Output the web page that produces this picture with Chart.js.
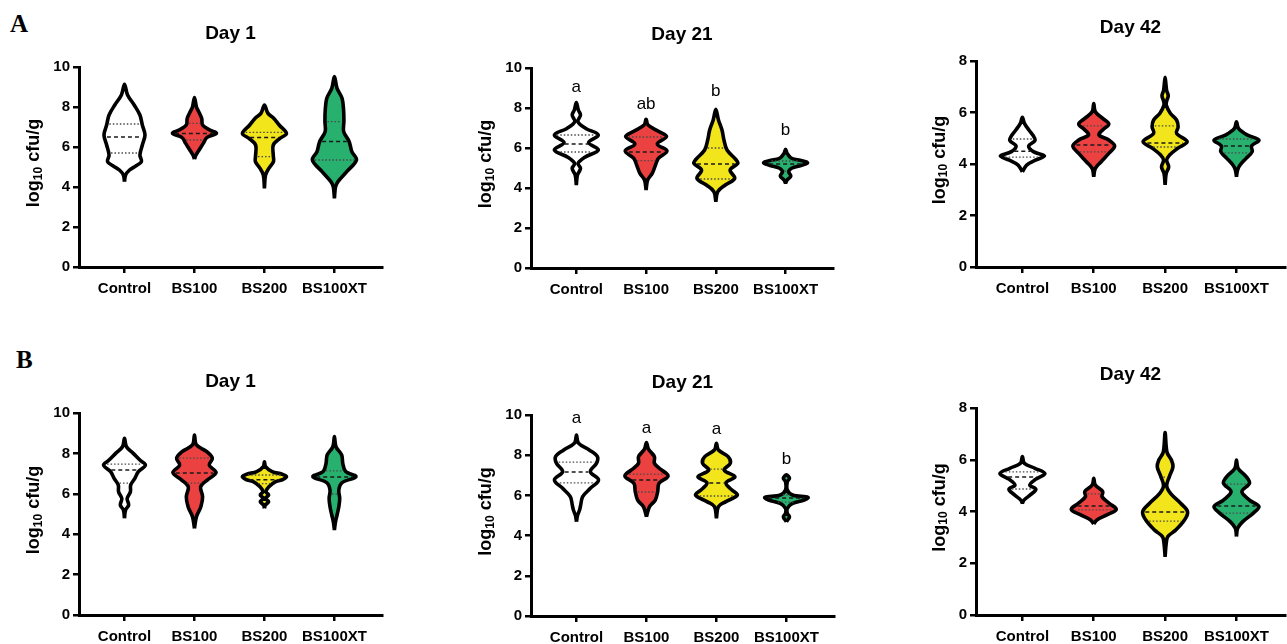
<!DOCTYPE html>
<html>
<head>
<meta charset="utf-8">
<script src="https://cdn.jsdelivr.net/npm/chart.js@4.4.1/dist/chart.umd.min.js"></script>
<style>
  html, body { margin: 0; padding: 0; background: #fff; width: 1287px; height: 644px; overflow: hidden; position: relative; }
  canvas { position: absolute; }
  .tag { position: absolute; font: bold 25px "Liberation Serif", "Times New Roman", serif; line-height: 25px; color: #000; }
</style>
</head>
<body>
<div class="tag" style="left:10px;top:11px">A</div>
<div class="tag" style="left:16px;top:347px">B</div>
<script>
// groups on the x axis
const groups = ['Control', 'BS100', 'BS200', 'BS100XT'];

// violin outlines: levels (log10 cfu/g) and relative density (1 = widest) per group
// quartiles: [Q1, median, Q3]

// A, day 1
const a1Levels = [
  [4.27, 4.6, 4.85, 5.05, 5.27, 5.6, 6.1, 6.6, 7.1, 7.6, 8.1, 8.6, 9.13],
  [5.4, 5.6, 5.85, 6.18, 6.47, 6.68, 6.85, 7.1, 7.43, 7.77, 8.0, 8.47],
  [3.93, 4.6, 4.93, 5.27, 5.6, 6.1, 6.43, 6.68, 7.1, 7.43, 7.68, 8.1],
  [3.43, 4.0, 4.27, 4.77, 5.35, 5.77, 6.27, 6.77, 7.27, 7.77, 8.43, 8.93, 9.52]
];
const a1Density = [
  [0, .05, .23, .51, .77, .7, .81, .93, .81, .7, .44, .14, 0],
  [0, .07, .21, .4, .56, 1, .7, .37, .33, .19, .09, 0],
  [0, .05, .2, .41, .4, .4, .7, 1, .67, .43, .16, 0],
  [0, .05, .16, .56, 1, .79, .67, .42, .43, .42, .35, .12, 0]
];
const a1Quartiles = [[5.7, 6.5, 7.15], [6.35, 6.68, 7.18], [5.52, 6.48, 6.73], [5.35, 6.27, 7.27]];

// A, day 21
const a21Levels = [
  [4.15, 4.65, 4.98, 5.23, 5.53, 5.9, 6.27, 6.65, 6.98, 7.32, 7.65, 7.9, 8.27],
  [3.9, 4.4, 4.73, 5.15, 5.48, 5.85, 6.2, 6.57, 6.82, 7.15, 7.43],
  [3.32, 3.82, 4.15, 4.48, 4.9, 5.23, 5.4, 5.9, 6.4, 6.9, 7.4, 7.93],
  [4.23, 4.4, 4.6, 4.82, 5.0, 5.12, 5.27, 5.4, 5.5, 5.73, 5.93]
];
const a21Density = [
  [0, .05, .19, .08, .37, 1, .56, 1, .43, .07, .19, .09, 0],
  [0, .07, .28, .43, .56, .95, .51, .93, .58, .09, 0],
  [0, .09, .43, .86, .65, 1, .93, .51, .37, .28, .12, 0],
  [0, .07, .24, .14, .3, .7, 1, .6, .25, .07, 0]
];
const a21Quartiles = [[5.8, 6.2, 6.65], [5.37, 5.8, 6.55], [4.45, 5.2, 6.0], [4.85, 5.2, 5.35]];
const a21Letters = ['a', 'ab', 'b', 'b'];
const a21LetterAt = [9.05, 8.2, 8.85, 6.9];

// A, day 42
const a42Levels = [
  [3.7, 3.96, 4.15, 4.31, 4.48, 4.7, 4.91, 5.09, 5.32, 5.58, 5.81],
  [3.51, 3.83, 4.09, 4.41, 4.7, 4.93, 5.13, 5.35, 5.55, 5.77, 6.03, 6.35],
  [3.19, 3.64, 3.89, 4.15, 4.35, 4.61, 4.87, 5.19, 5.45, 5.71, 5.97, 6.29, 6.45, 6.65, 6.85, 7.07, 7.37],
  [3.51, 3.77, 3.96, 4.22, 4.48, 4.7, 4.93, 5.13, 5.38, 5.64]
];
const a42Density = [
  [0, .19, .58, .98, .49, .28, .56, .49, .29, .09, 0],
  [0, .07, .33, .67, .93, .67, .23, .43, .67, .4, .07, 0],
  [0, .05, .16, .07, .2, .56, .98, .51, .58, .51, .23, .05, .07, .14, .07, .04, 0],
  [0, .05, .16, .43, .7, .67, 1, .47, .09, 0]
];
const a42Quartiles = [[4.27, 4.5, 4.97], [4.47, 4.74, 5.48], [4.66, 4.82, 5.48], [4.43, 4.7, 4.97]];

// B, day 1
const b1Levels = [
  [4.79, 5.2, 5.44, 5.77, 6.1, 6.43, 6.76, 7.1, 7.42, 7.67, 8.0, 8.33, 8.75],
  [4.29, 4.87, 5.36, 5.86, 6.35, 6.68, 7.05, 7.42, 7.76, 8.09, 8.42, 8.91],
  [5.28, 5.44, 5.61, 5.77, 5.94, 6.1, 6.35, 6.6, 6.72, 6.85, 6.97, 7.1, 7.35, 7.59],
  [4.21, 4.62, 4.95, 5.36, 5.77, 6.19, 6.55, 6.85, 7.1, 7.51, 7.92, 8.33, 8.83]
];
const b1Density = [
  [0, .05, .19, .12, .27, .28, .47, .63, .95, .7, .4, .09, 0],
  [0, .09, .29, .37, .28, .58, .98, .67, .81, .56, .09, 0],
  [0, .04, .19, .04, .19, .07, .2, .51, .85, 1, .8, .35, .05, 0],
  [0, .05, .12, .2, .24, .2, .35, .98, .51, .38, .33, .07, 0]
];
const b1Quartiles = [[6.53, 7.18, 7.47], [6.53, 7.03, 7.77], [6.5, 6.7, 6.93], [5.99, 6.83, 7.13]];

// B, day 21
const b21Levels = [
  [4.69, 5.02, 5.27, 5.52, 5.94, 6.35, 6.77, 7.18, 7.6, 7.93, 8.26, 8.6, 9.0],
  [4.94, 5.44, 5.77, 6.19, 6.6, 6.97, 7.35, 7.6, 7.93, 8.3, 8.63],
  [4.86, 5.44, 5.69, 6.02, 6.3, 6.63, 6.93, 7.26, 7.6, 7.93, 8.26, 8.59],
  [4.69, 4.94, 5.1, 5.35, 5.6, 5.77, 5.9, 6.02, 6.27, 6.68, 6.85, 7.02]
];
const b21Density = [
  [0, .05, .14, .19, .28, .63, 1, .63, .91, .95, .58, .09, 0],
  [0, .14, .4, .51, .57, .98, .58, .36, .36, .09, 0],
  [0, .09, .43, .95, .67, .43, .84, .35, .63, .53, .09, 0],
  [0, .14, .04, .04, .28, .81, .98, .28, .04, .04, .14, 0]
];
const b21Quartiles = [[6.62, 7.16, 7.66], [6.17, 6.77, 7.06], [5.97, 6.62, 7.31], [5.67, 5.87, 6.02]];
const b21Letters = ['a', 'a', 'a', 'b'];
const b21LetterAt = [9.85, 9.35, 9.3, 7.8];

// B, day 42
const b42Levels = [
  [4.31, 4.44, 4.64, 4.86, 5.02, 5.24, 5.47, 5.67, 5.86, 6.12],
  [3.52, 3.67, 3.86, 4.08, 4.31, 4.57, 4.77, 5.02, 5.28],
  [2.25, 2.77, 3.03, 3.28, 3.67, 3.99, 4.31, 4.7, 5.0, 5.35, 5.73, 5.99, 6.25, 6.5, 7.05],
  [3.03, 3.35, 3.6, 3.93, 4.19, 4.44, 4.77, 5.09, 5.35, 5.67, 5.99]
];
const b42Density = [
  [0, .07, .35, .6, .33, .58, 1, .56, .09, 0],
  [0, .14, .56, 1, .7, .37, .4, .07, 0],
  [0, .05, .12, .47, .86, 1, .7, .24, .07, .19, .35, .28, .1, .05, 0],
  [0, .05, .27, .74, 1, .58, .24, .58, .43, .07, 0]
];
const b42Quartiles = [[4.87, 5.33, 5.53], [4.06, 4.21, 4.68], [3.63, 3.98, 5.33], [3.94, 4.21, 5.06]];

// styling
const FONT = '"Liberation Sans", Arial, Helvetica, sans-serif';
const fills = ['#ffffff', '#ec4141', '#f3e51c', '#28b06f'];
const HALF = 0.315; // widest half-width of a violin, in category units

Chart.defaults.font.family = FONT;
Chart.defaults.color = '#000';

const panels = [
  {title: 'Day 1',  yMax: 10, levels: a1Levels,  density: a1Density,  quart: a1Quartiles,  L: 79,  R: 382,  T: 67,  B: 267, ty: 34,  top: 0},
  {title: 'Day 21', yMax: 10, levels: a21Levels, density: a21Density, quart: a21Quartiles, L: 531, R: 833,  T: 68,  B: 268, ty: 35,  top: 0,
   letters: a21Letters, letterAt: a21LetterAt},
  {title: 'Day 42', yMax: 8,  levels: a42Levels, density: a42Density, quart: a42Quartiles, L: 976, R: 1285, T: 61,  B: 267, ty: 28,  top: 0},
  {title: 'Day 1',  yMax: 10, levels: b1Levels,  density: b1Density,  quart: b1Quartiles,  L: 79,  R: 382,  T: 413, B: 615, ty: 382, top: 330},
  {title: 'Day 21', yMax: 10, levels: b21Levels, density: b21Density, quart: b21Quartiles, L: 531, R: 834,  T: 415, B: 616, ty: 383, top: 330,
   letters: b21Letters, letterAt: b21LetterAt},
  {title: 'Day 42', yMax: 8,  levels: b42Levels, density: b42Density, quart: b42Quartiles, L: 976, R: 1285, T: 408, B: 615, ty: 375, top: 330}
];

function outline(center, levels, dens) {
  const right = levels.map((v, k) => ({x: center + HALF * dens[k], y: v}));
  const left = levels.map((v, k) => ({x: center - HALF * dens[k], y: v})).reverse().slice(1);
  return right.concat(left);
}

function densityAt(levels, dens, v) {
  for (let k = 1; k < levels.length; k++) {
    if (v <= levels[k]) {
      const t = (v - levels[k - 1]) / (levels[k] - levels[k - 1]);
      return dens[k - 1] + t * (dens[k] - dens[k - 1]);
    }
  }
  return 0;
}

const panelText = {
  id: 'panelText',
  afterDraw(chart, args, opts) {
    const {ctx, chartArea, scales: {x, y}} = chart;
    ctx.save();
    // title
    ctx.fillStyle = '#000';
    ctx.textAlign = 'center';
    ctx.textBaseline = 'middle';
    ctx.font = 'bold 19px ' + FONT;
    ctx.fillText(opts.title, (chartArea.left + chartArea.right) / 2, opts.titleY);
    // letters above the violins
    if (opts.letters) {
      ctx.font = '17px ' + FONT;
      opts.letters.forEach((s, i) => ctx.fillText(s, x.getPixelForValue(i), y.getPixelForValue(opts.letterAt[i])));
    }
    // y axis title with subscript
    ctx.font = 'bold 15px ' + FONT;
    let w = 0;
    y.ticks.forEach(t => { w = Math.max(w, ctx.measureText(String(t.label)).width); });
    const cx = chartArea.left - 9 - w - 19;
    const cy = (chartArea.top + chartArea.bottom) / 2 - 4;
    const parts = [['log', 'bold 18px ', 0], ['10', 'bold 12px ', 4], [' cfu/g', 'bold 18px ', 0]];
    let total = 0;
    parts.forEach(p => { ctx.font = p[1] + FONT; total += ctx.measureText(p[0]).width; });
    ctx.translate(cx, cy);
    ctx.rotate(-Math.PI / 2);
    ctx.textAlign = 'left';
    let pos = -total / 2;
    parts.forEach(p => {
      ctx.font = p[1] + FONT;
      ctx.fillText(p[0], pos, p[2]);
      pos += ctx.measureText(p[0]).width;
    });
    ctx.restore();
  }
};

panels.forEach(p => {
  const canvas = document.createElement('canvas');
  const left = p.L - 79;
  const width = p.R - p.L + 79 + 4;
  const height = p.B - p.top + 40;
  canvas.width = width;
  canvas.height = height;
  canvas.style.left = left + 'px';
  canvas.style.top = p.top + 'px';
  canvas.style.width = width + 'px';
  canvas.style.height = height + 'px';
  document.body.appendChild(canvas);

  const datasets = [];
  groups.forEach((g, i) => {
    const lv = p.levels[i], dn = p.density[i];
    p.quart[i].forEach((q, k) => {
      const hw = Math.max(HALF * densityAt(lv, dn, q) - 0.035, 0);
      datasets.push({
        data: [{x: i - hw, y: q}, {x: i + hw, y: q}],
        borderColor: k === 1 ? '#1a1a1a' : '#4a4a4a',
        borderWidth: k === 1 ? 1.5 : 1.3,
        borderDash: k === 1 ? [4, 3] : [1.5, 2],
        pointRadius: 0,
        fill: false,
        order: 0
      });
    });
    datasets.push({
      label: g,
      data: outline(i, lv, dn),
      borderColor: '#000',
      borderWidth: 3.6,
      borderJoinStyle: 'round',
      backgroundColor: fills[i],
      fill: 'shape',
      tension: 0.35,
      pointRadius: 0,
      order: 1
    });
  });

  new Chart(canvas, {
    type: 'line',
    data: {datasets},
    options: {
      responsive: false,
      animation: false,
      devicePixelRatio: 1,
      layout: {padding: {top: p.T - p.top, right: 4, left: 0, bottom: 0}},
      plugins: {
        legend: {display: false},
        tooltip: {enabled: false},
        panelText: {title: p.title, titleY: p.ty - p.top, letters: p.letters, letterAt: p.letterAt}
      },
      scales: {
        x: {
          type: 'linear',
          min: -0.65,
          max: 3.68,
          afterBuildTicks: s => { s.ticks = groups.map((g, i) => ({value: i})); },
          afterFit: s => { s.height = 40; },
          ticks: {
            callback: v => groups[Math.round(v)],
            font: {size: 15, weight: 'bold'},
            color: '#000',
            padding: 7,
            maxRotation: 0,
            autoSkip: false
          },
          grid: {drawOnChartArea: false, drawTicks: true, tickLength: 6, color: '#000', lineWidth: 2.5},
          border: {display: true, color: '#000', width: 3}
        },
        y: {
          min: 0,
          max: p.yMax,
          afterFit: s => { s.width = 79; },
          ticks: {stepSize: 2, font: {size: 15, weight: 'bold'}, color: '#000', padding: 3},
          grid: {drawOnChartArea: false, drawTicks: true, tickLength: 6, color: '#000', lineWidth: 2.5},
          border: {display: true, color: '#000', width: 3}
        }
      }
    },
    plugins: [panelText]
  });
});
</script>
</body>
</html>
